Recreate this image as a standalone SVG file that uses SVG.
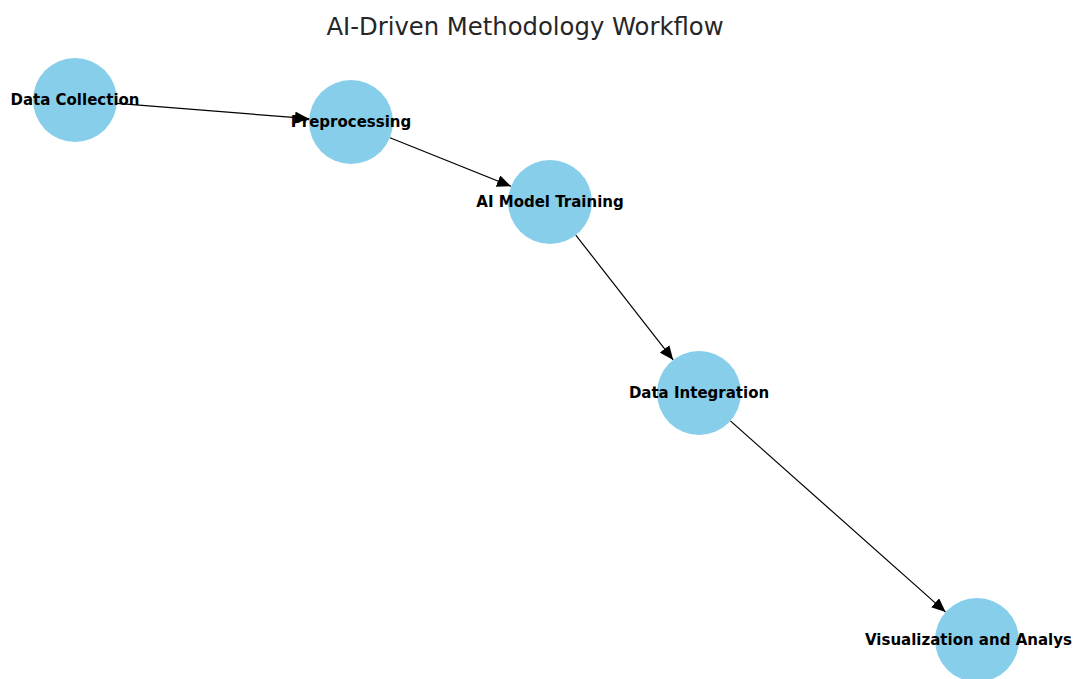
<svg xmlns="http://www.w3.org/2000/svg" width="1073" height="679" viewBox="0 0 1073 679">
<style>
.node{fill:#87CEEB}
.lbl{font-family:"DejaVu Sans",sans-serif;font-weight:bold;font-size:15px;fill:#000;text-anchor:middle;dominant-baseline:central}
.edge{stroke:#000;stroke-width:1.2;fill:none}
.title{font-family:"DejaVu Sans",sans-serif;font-size:24.3px;fill:#262626;text-anchor:middle}
</style>
<defs>
<marker id="ah" markerUnits="userSpaceOnUse" markerWidth="16" markerHeight="12" refX="14" refY="6" orient="auto">
<path d="M0,0 L14,6 L0,12 Z" fill="#000"/>
</marker>
</defs>
<rect width="1073" height="679" fill="#fff"/>
<text class="title" x="525" y="35">AI-Driven Methodology Workflow</text>
<g id="connectors">
<line class="edge" x1="117" y1="103.3" x2="309" y2="118.7" marker-end="url(#ah)"/>
<line class="edge" x1="390" y1="137.7" x2="511" y2="186.3" marker-end="url(#ah)"/>
<line class="edge" x1="575.8" y1="235.1" x2="673.2" y2="359.9" marker-end="url(#ah)"/>
<line class="edge" x1="730.4" y1="420.9" x2="945.6" y2="612.1" marker-end="url(#ah)"/>
</g>
<g id="n1"><circle class="node" cx="75" cy="100" r="42"/><text class="lbl" x="75" y="100">Data Collection</text></g>
<g id="n2"><circle class="node" cx="351" cy="122" r="42"/><text class="lbl" x="351" y="122">Preprocessing</text></g>
<g id="n3"><circle class="node" cx="550" cy="202" r="42"/><text class="lbl" x="550" y="202">AI Model Training</text></g>
<g id="n4"><circle class="node" cx="699" cy="393" r="42"/><text class="lbl" x="699" y="393">Data Integration</text></g>
<g id="n5"><circle class="node" cx="977" cy="640" r="42"/><text class="lbl" x="865" y="640" style="text-anchor:start">Visualization and Analys</text></g>
</svg>
